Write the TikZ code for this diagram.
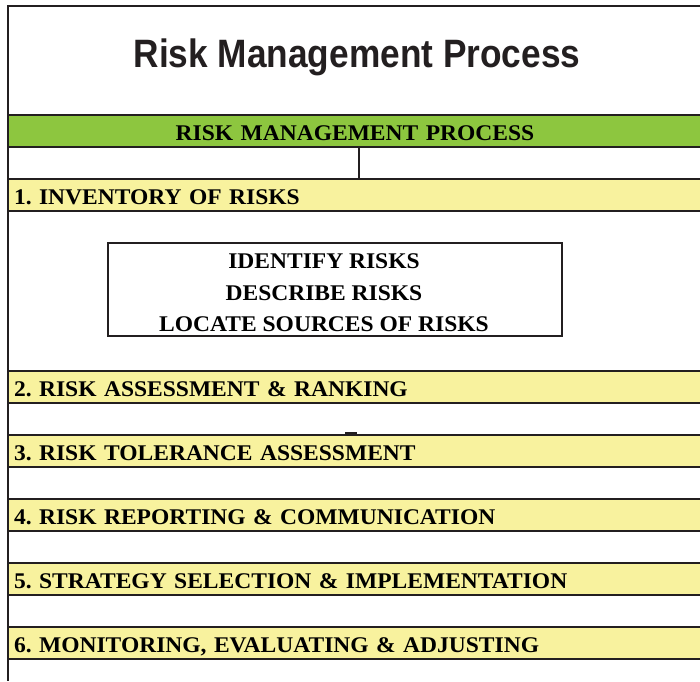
\documentclass[tikz,border=0pt]{standalone}
\usepackage{fontspec}
\setmainfont{Liberation Serif}
\newfontfamily\titlefont[FakeStretch=0.89]{Liberation Sans}
\newfontfamily\bandfont[FakeStretch=1.05]{Liberation Serif}
\usetikzlibrary{positioning}
\definecolor{heading green}{HTML}{8DC63F}
\definecolor{band yellow}{HTML}{F8F29E}
\definecolor{rule black}{HTML}{231F20}
\frenchspacing
\tikzset{
    % Thick dark rules used all over the table
    rule line/.style={draw=rule black, line width=2pt},
%
    % Full width strip holding one line of the table
    band/.style={
        rule line, rectangle, outer sep=0, inner ysep=0, inner xsep=6pt,
        minimum height=32pt, text width=700pt, align=left,
        text height=19pt, text depth=-2pt, anchor=north west,
        font=\bandfont\bfseries\fontsize{22.4}{26}\selectfont},
%
    % A yellow strip for each numbered step
    step band/.style={band, fill=band yellow},
    % The green strip under the title
    heading band/.style={band, fill=heading green, text width=682pt,
        align=center},
    % The framed list of what the first step covers
    list box/.style={
        rule line, rectangle, outer sep=0,
        minimum width=454pt, minimum height=93pt}}

\begin{document}
\begin{tikzpicture}[x=1pt, y=-1pt]
\useasboundingbox (0,0) rectangle (700,681);

% Frame, open on the right and at the bottom
\draw[rule line] (700,6) -- (8,6) -- (8,681);

% Title
\node[anchor=base, text=rule black,
    font=\titlefont\bfseries\fontsize{39.6}{44}\selectfont]
    (title) at (357,67) {Risk Management Process};

% Green heading and the split row below it
\node[heading band] (heading) at (8,115) {RISK MANAGEMENT PROCESS};
\path (heading.south) ++(4,0) coordinate (split top);

% Step 1 with its list
\node[step band, below=32pt of heading.south west, anchor=north west]
    (inventory) {1. INVENTORY OF RISKS};
\draw[rule line] (split top) -- (split top |- inventory.north);

\node[list box, below=32pt of inventory.south west, anchor=north west,
    xshift=100pt] (list box) {};
\node[align=center, font=\bandfont\bfseries\fontsize{22.4}{31.5}\selectfont]
    (inventory steps) at ([shift={(-11,3.5)}]list box.center)
    {IDENTIFY RISKS\\DESCRIBE RISKS\\LOCATE SOURCES OF RISKS};

% Remaining steps
\node[step band, below=160pt of inventory.south west, anchor=north west]
    (assessment) {2. RISK ASSESSMENT \& RANKING};
\node[step band, below=32pt of assessment.south west, anchor=north west]
    (tolerance) {3. RISK TOLERANCE ASSESSMENT};
\node[step band, below=32pt of tolerance.south west, anchor=north west]
    (reporting) {4. RISK REPORTING \& COMMUNICATION};
\node[step band, below=32pt of reporting.south west, anchor=north west]
    (strategy) {5. STRATEGY SELECTION \& IMPLEMENTATION};
\node[step band, below=32pt of strategy.south west, anchor=north west]
    (monitoring) {6. MONITORING, EVALUATING \& ADJUSTING};

% Small stub above step 3
\draw[rule line, line width=1.5pt]
    ([shift={(337,-2)}]tolerance.north west) -- ++(12,0);

\end{tikzpicture}
\end{document}
